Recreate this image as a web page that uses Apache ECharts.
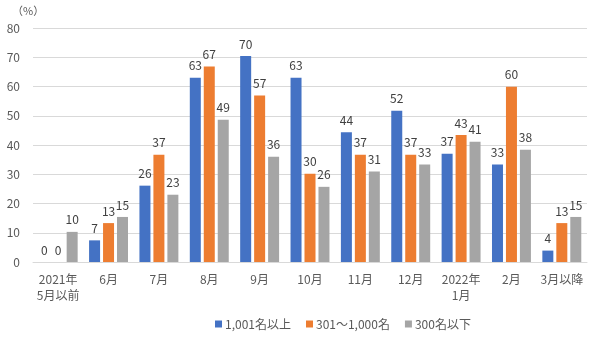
<!DOCTYPE html>
<html><head><meta charset="utf-8">
<script src="https://cdn.jsdelivr.net/npm/echarts@6/dist/echarts.min.js"></script>
<style>html,body{margin:0;padding:0;background:#fff}#c{width:611px;height:343px}</style>
</head><body><div id="c"></div>
<script>
const categories = ['2021年\n5月以前','6月','7月','8月','9月','10月','11月','12月','2022年\n1月','2月','3月以降'];
const seriesNames = ['1,001名以上','301～1,000名','300名以下'];
const large = [0, 7.4, 26.1, 63.0, 70.4, 63.0, 44.4, 51.7, 37.0, 33.3, 3.9];
const medium = [0, 13.3, 36.7, 66.8, 56.9, 30.2, 36.7, 36.7, 43.4, 59.9, 13.3];
const small = [10.3, 15.4, 23.0, 48.6, 36.0, 25.7, 30.9, 33.3, 41.1, 38.4, 15.4];
const yTicks = {min: 0, max: 80, interval: 10};
const colors = ['#4472C4', '#ED7D31', '#A5A5A5'];
const FONT = '"Noto Sans CJK JP", "Noto Sans", sans-serif';
const chart = echarts.init(document.getElementById('c'));
const mk = (name, data, color) => ({
  name, type: 'bar', data, barWidth: 11, barGap: '27%',
  itemStyle: {color},
  label: {show: true, position: 'top', distance: 6, color: '#404040', fontSize: 12, fontFamily: FONT,
    formatter: p => Math.round(p.value)}
});
chart.setOption({
  animation: false,
  textStyle: {fontFamily: FONT},
  graphic: [{type: 'text', left: 12, top: 5, style: {text: '（%）', fill: '#595959', font: '11px ' + FONT}}],
  grid: {left: 33, right: 24, top: 28, bottom: 81},
  legend: {bottom: 8, left: 210, itemWidth: 7, itemHeight: 7, itemGap: 15, icon: 'rect',
    textStyle: {color: '#595959', fontSize: 12, fontFamily: FONT, padding: [0,0,0,-2]}, data: seriesNames},
  xAxis: {type: 'category', data: categories,
    axisLine: {lineStyle: {color: '#d9d9d9'}}, axisTick: {show: false},
    axisLabel: {color: '#595959', fontSize: 12, fontFamily: FONT, margin: 9, lineHeight: 16, interval: 0}},
  yAxis: {type: 'value', min: yTicks.min, max: yTicks.max, interval: yTicks.interval,
    splitLine: {lineStyle: {color: '#d9d9d9'}},
    axisLabel: {color: '#595959', fontSize: 12, fontFamily: FONT, margin: 13}},
  series: [mk(seriesNames[0], large, colors[0]), mk(seriesNames[1], medium, colors[1]), mk(seriesNames[2], small, colors[2])]
});
</script></body></html>
